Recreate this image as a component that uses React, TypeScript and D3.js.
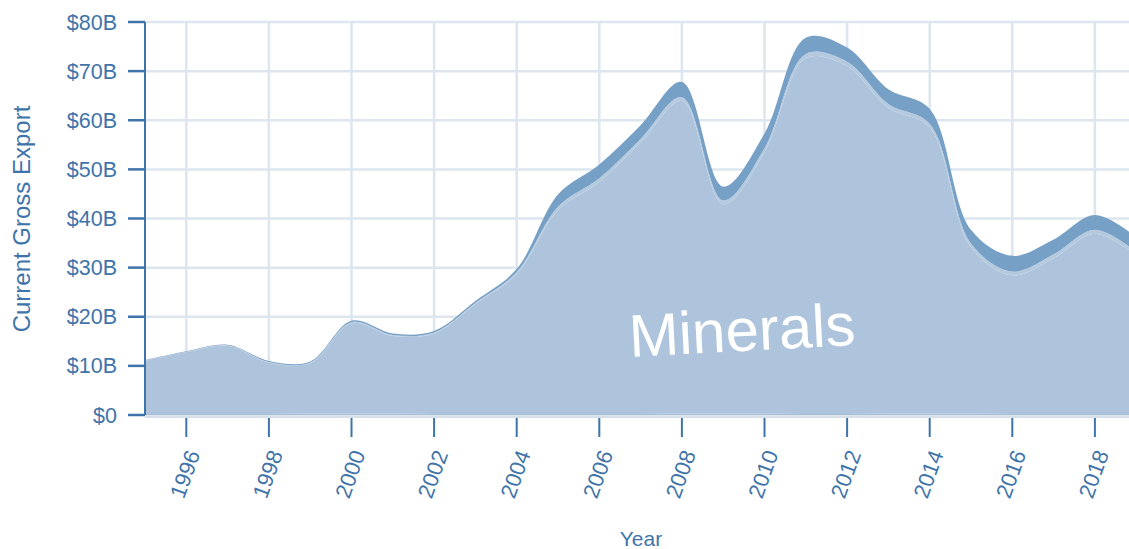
import React from "react";
import * as d3 from "d3";

const years = [1995, 1996, 1997, 1998, 1999, 2000, 2001, 2002, 2003, 2004, 2005, 2006, 2007, 2008, 2009, 2010, 2011, 2012, 2013, 2014, 2015, 2016, 2017, 2018, 2019];
const baseSeries = [0.2, 0.2, 0.2, 0.2, 0.3, 0.3, 0.3, 0.2, 0.2, 0.2, 0.2, 0.2, 0.2, 0.3, 0.3, 0.3, 0.4, 0.4, 0.3, 0.3, 0.3, 0.2, 0.2, 0.2, 0.2];
const minerals = [10.8, 12.6, 13.9, 10.5, 10.3, 18.4, 15.8, 16.4, 22.4, 28.5, 41.5, 47.2, 55.2, 63.6, 42.6, 53.2, 72.2, 70.6, 62.2, 58.2, 33.8, 28.2, 31.7, 36.7, 32.2];
const thinBand = [0.1, 0.1, 0.1, 0.1, 0.1, 0.2, 0.2, 0.2, 0.2, 0.4, 0.7, 0.8, 0.8, 0.8, 0.8, 0.8, 0.9, 0.9, 0.8, 0.8, 0.8, 0.8, 0.8, 0.8, 0.8];
const darkBand = [0.1, 0.1, 0.1, 0.2, 0.2, 0.3, 0.3, 0.3, 0.4, 0.6, 2.5, 2.8, 2.8, 3.1, 2.8, 3.0, 3.3, 2.9, 3.0, 3.0, 2.8, 3.2, 3.0, 3.0, 3.0];
const yTicks = [0, 10, 20, 30, 40, 50, 60, 70, 80];
const xTicks = [1996, 1998, 2000, 2002, 2004, 2006, 2008, 2010, 2012, 2014, 2016, 2018];
const keys = ["base", "minerals", "thin", "dark"];
const colors: Record<string, string> = { base: "#a9c0d9", minerals: "#adc4dc", thin: "#b6cadf", dark: "#77a0c6" };

const W = 1129, H = 549;
const left = 145, top = 22, bottom = 415;
const axisColor = "#3f74aa";
const font = "'Liberation Sans', Arial, sans-serif";

export default function App() {
  const x = d3.scaleLinear().domain([1995, 2019]).range([left, left + 24 * 41.3]);
  const y = d3.scaleLinear().domain([0, 80]).range([bottom, top]);
  const rows = years.map((yr, i) => ({ year: yr, base: baseSeries[i], minerals: minerals[i], thin: thinBand[i], dark: darkBand[i] }));
  const stacked = d3.stack<any>().keys(keys)(rows);
  const area = d3.area<any>()
    .x((d) => x(d.data.year))
    .y0((d) => y(d[0]))
    .y1((d) => y(d[1]))
    .curve(d3.curveCatmullRom.alpha(0.5));

  return (
    <svg width={W} height={H} style={{ position: "absolute", left: 0, top: 0, background: "#fff" }} fontFamily={font}>
      <defs>
        <clipPath id="plot">
          <rect x={left} y={0} width={W - left} height={bottom + 1} />
        </clipPath>
      </defs>
      {yTicks.map((t) => (
        <line key={"gy" + t} x1={left} x2={W} y1={y(t)} y2={y(t)} stroke="#dde6ef" strokeWidth={2.5} />
      ))}
      {xTicks.map((t) => (
        <line key={"gx" + t} x1={x(t)} x2={x(t)} y1={top} y2={bottom} stroke="#dde6ef" strokeWidth={2.5} />
      ))}
      <g clipPath="url(#plot)">
        {stacked.map((s) => (
          <path key={s.key} d={area(s) || ""} fill={colors[s.key]} />
        ))}
      </g>
      <line x1={left} x2={W} y1={bottom + 2} y2={bottom + 2} stroke="#cbd6e3" strokeWidth={1.5} />
      <line x1={left} x2={left} y1={top} y2={bottom} stroke={axisColor} strokeWidth={2} />
      {yTicks.map((t) => (
        <g key={"yt" + t}>
          <line x1={128} x2={left} y1={y(t)} y2={y(t)} stroke={axisColor} strokeWidth={2.5} />
          <text x={117} y={y(t)} dy="0.35em" textAnchor="end" fontSize={21.5} fill={axisColor}>
            {t === 0 ? "$0" : `$${t}B`}
          </text>
        </g>
      ))}
      {xTicks.map((t) => (
        <g key={"xt" + t}>
          <line x1={x(t)} x2={x(t)} y1={bottom + 3} y2={bottom + 22} stroke={axisColor} strokeWidth={2} />
          <text
            transform={`translate(${x(t) + 7},${bottom + 36}) rotate(-70)`}
            textAnchor="end"
            dy="0.35em"
            fontSize={22}
            fill={axisColor}
          >
            {t}
          </text>
        </g>
      ))}
      <text x={641} y={546} textAnchor="middle" fontSize={21} fill={axisColor}>Year</text>
      <text transform={`translate(30,219) rotate(-90)`} textAnchor="middle" fontSize={24} fill={axisColor}>
        Current Gross Export
      </text>
      <text transform={`translate(742,330) rotate(-3)`} textAnchor="middle" dy="0.35em" fontSize={60} fill="#ffffff">
        Minerals
      </text>
    </svg>
  );
}
